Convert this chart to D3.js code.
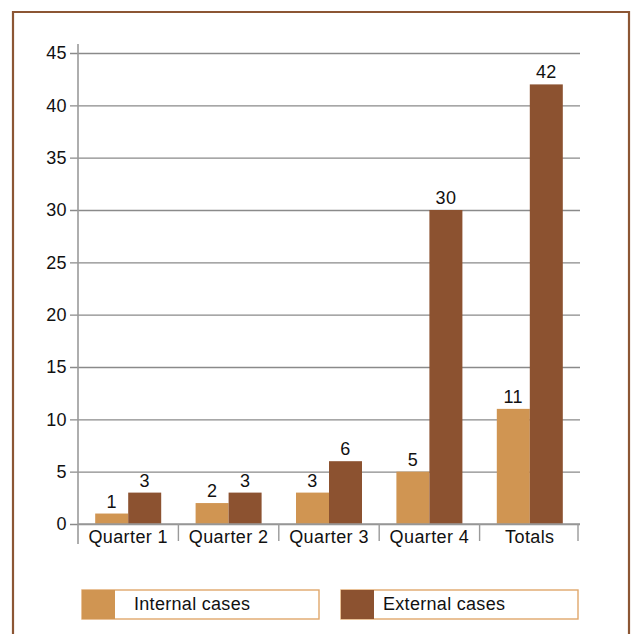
<!DOCTYPE html>
<html>
<head>
<meta charset="utf-8">
<script src="https://cdn.jsdelivr.net/npm/d3@7"></script>
<style>
  html, body { margin: 0; padding: 0; background: #fff; }
  svg { display: block; }
  text { font-family: "Liberation Sans", Arial, sans-serif; fill: #111; }
</style>
</head>
<body>
<svg id="chart" width="632" height="634"></svg>
<script>
// Case counts per quarter
const categories = ["Quarter 1", "Quarter 2", "Quarter 3", "Quarter 4", "Totals"];
const internalCases = [1, 2, 3, 5, 11];
const externalCases = [3, 3, 6, 30, 42];
const seriesNames = ["Internal cases", "External cases"];
const yTicks = [0, 5, 10, 15, 20, 25, 30, 35, 40, 45];

const colors = ["#d09552", "#8c5230"];
const frameColor = "#8c5634";
const fontSize = "18px";
const spacing = "0.4px";

const svg = d3.select("#chart");
const W = 632, H = 634;
const margin = { left: 78, right: 52, top: 53, bottom: 110 };
const plotW = W - margin.left - margin.right;
const plotH = H - margin.top - margin.bottom;

// Outer frame (open at the bottom edge)
svg.append("path")
  .attr("d", `M13,${H + 5} V12 H629 V${H + 5}`)
  .attr("fill", "none")
  .attr("stroke", frameColor)
  .attr("stroke-width", 2.2);

const g = svg.append("g").attr("transform", `translate(${margin.left},${margin.top})`);

const x = d3.scaleBand().domain(categories).range([0, plotW]).paddingInner(0).paddingOuter(0);
const y = d3.scaleLinear().domain([0, 45]).range([plotH, 0]);

// Horizontal gridlines with tick labels
const yAxis = d3.axisLeft(y).tickValues(yTicks).tickSize(-plotW).tickPadding(4);
const ya = g.append("g").call(yAxis);
ya.select(".domain").remove();
ya.selectAll(".tick line")
  .attr("x1", -8)
  .attr("stroke", "#8a8a8a")
  .attr("stroke-width", 1.3);
ya.selectAll(".tick text")
  .attr("x", -11)
  .style("font-size", fontSize)
  .style("letter-spacing", spacing)
  .style("font-family", "'Liberation Sans', Arial, sans-serif")
  .attr("fill", "#111");

// Vertical axis line
g.append("line")
  .attr("x1", 0).attr("x2", 0)
  .attr("y1", y(45) - 9).attr("y2", plotH + 20)
  .attr("stroke", "#9a9a9a")
  .attr("stroke-width", 1.6);

// Bars
const inner = d3.scaleBand().domain(seriesNames).range([0, 66]);
const groupOffset = (x.bandwidth() - 66) / 2;
const series = [internalCases, externalCases];

series.forEach((vals, si) => {
  const grp = g.append("g");
  grp.selectAll("rect")
    .data(vals)
    .join("rect")
    .attr("x", (d, i) => x(categories[i]) + groupOffset + inner(seriesNames[si]))
    .attr("y", d => y(d))
    .attr("width", inner.bandwidth())
    .attr("height", d => y(0) - y(d))
    .attr("fill", colors[si]);
  grp.selectAll("text")
    .data(vals)
    .join("text")
    .attr("x", (d, i) => x(categories[i]) + groupOffset + inner(seriesNames[si]) + inner.bandwidth() / 2)
    .attr("y", d => y(d) - 6)
    .attr("text-anchor", "middle")
    .style("font-size", fontSize)
    .style("letter-spacing", spacing)
    .text(d => d);
});

// Baseline and category dividers
g.append("line")
  .attr("x1", 0).attr("x2", plotW)
  .attr("y1", y(0)).attr("y2", y(0))
  .attr("stroke", "#9a9a9a")
  .attr("stroke-width", 1.6);

const xAxis = d3.axisBottom(x).tickSize(0).tickPadding(0);
const xa = g.append("g").attr("transform", `translate(0,${plotH})`).call(xAxis);
xa.select(".domain").remove();
xa.selectAll(".tick text")
  .attr("y", 19)
  .attr("dy", 0)
  .style("font-size", fontSize)
  .style("letter-spacing", spacing)
  .style("font-family", "'Liberation Sans', Arial, sans-serif")
  .attr("fill", "#111");

g.append("g").selectAll("line")
  .data(categories.slice(1).concat(["__end"]))
  .join("line")
  .attr("x1", (d, i) => i < categories.length - 1 ? x(d) : plotW - 2)
  .attr("x2", (d, i) => i < categories.length - 1 ? x(d) : plotW - 2)
  .attr("y1", y(0))
  .attr("y2", y(0) + 17)
  .attr("stroke", "#9a9a9a")
  .attr("stroke-width", 1.4);

// Legend
const legendX = [82, 341];
const legend = svg.append("g");
seriesNames.forEach((name, i) => {
  const lg = legend.append("g").attr("transform", `translate(${legendX[i]},590)`);
  lg.append("rect")
    .attr("width", 237).attr("height", 29)
    .attr("fill", "#fff")
    .attr("stroke", "#e0a76c")
    .attr("stroke-width", 1.4);
  lg.append("rect")
    .attr("width", 33).attr("height", 29)
    .attr("fill", colors[i]);
  lg.append("text")
    .attr("x", i === 0 ? 52 : 42)
    .attr("y", 20)
    .style("font-size", fontSize)
    .style("letter-spacing", "0.3px")
    .text(name);
});
</script>
</body>
</html>
